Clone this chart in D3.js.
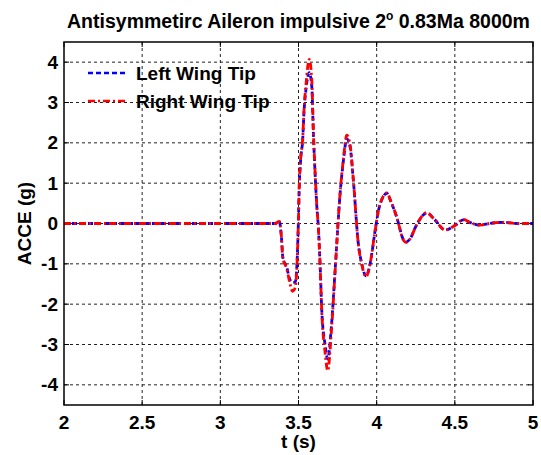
<!DOCTYPE html>
<html lang="en">
<head>
<meta charset="utf-8">
<title>Antisymmetirc Aileron impulsive</title>
<script src="https://d3js.org/d3.v7.min.js"></script>
<style>
  body { margin: 0; background: #fff; }
  svg { display: block; }
  text { font-family: Arial, "Liberation Sans", sans-serif; font-weight: bold; fill: #000; }
</style>
</head>
<body>
<script>
// time samples (s)
const tVals = [2.0, 3.30, 3.35, 3.377, 3.39, 3.40, 3.425, 3.446, 3.462, 3.478, 3.489, 3.499,
  3.505, 3.514, 3.527, 3.535, 3.548, 3.569, 3.585, 3.595, 3.606, 3.617, 3.627, 3.638, 3.649,
  3.67, 3.687, 3.71, 3.734, 3.766, 3.787, 3.809, 3.83, 3.851, 3.883, 3.905, 3.932, 3.958,
  3.99, 4.011, 4.04, 4.065, 4.09, 4.129, 4.171, 4.188, 4.21, 4.26, 4.32, 4.37, 4.438, 4.5,
  4.555, 4.6, 4.66, 4.72, 4.81, 4.9, 5.0];

// left wing tip acceleration (g)
const leftVals = [0, 0, 0, 0.05, -0.3, -0.84, -1.09, -1.4, -1.46, -1.46, -1.1, 0,
  0.93, 1.59, 2.09, 2.75, 3.33, 3.74, 3.4, 2.25, 1.26, 0.44, -0.1, -1.0, -2.16,
  -3.0, -3.36, -2.57, -1.17, 0.73, 1.55, 2.1, 1.9, 1.06, -0.51, -1.0, -1.3, -1.0,
  -0.18, 0.31, 0.65, 0.75, 0.55, 0.15, -0.4, -0.46, -0.4, 0.0, 0.26, 0.1, -0.16, -0.05,
  0.09, 0.02, -0.04, 0, 0.03, 0.0, 0.0];

// right wing tip acceleration (g)
const rightVals = [0, 0, 0, 0.05, -0.3, -0.86, -1.12, -1.5, -1.68, -1.6, -1.15, 0,
  0.95, 1.62, 2.12, 2.8, 3.45, 4.07, 3.55, 2.3, 1.28, 0.44, -0.1, -1.02, -2.2,
  -3.2, -3.65, -2.7, -1.2, 0.75, 1.6, 2.19, 1.95, 1.08, -0.52, -1.02, -1.32, -1.0,
  -0.18, 0.31, 0.66, 0.76, 0.56, 0.15, -0.41, -0.47, -0.4, 0.0, 0.27, 0.1, -0.16, -0.05,
  0.1, 0.02, -0.04, 0, 0.03, 0.0, 0.0];

const xTicks = [2, 2.5, 3, 3.5, 4, 4.5, 5];
const yTicks = [-4, -3, -2, -1, 0, 1, 2, 3, 4];
const seriesNames = ["Left Wing Tip", "Right Wing Tip"];

const W = 541, H = 455;
const m = {left: 64, right: 8, top: 42, bottom: 50};
const pw = W - m.left - m.right, ph = H - m.top - m.bottom;

const svg = d3.select("body").append("svg").attr("width", W).attr("height", H);

const x = d3.scaleLinear().domain([2, 5]).range([0, pw]);
const y = d3.scaleLinear().domain([-4.5, 4.5]).range([ph, 0]);

const g = svg.append("g").attr("transform", `translate(${m.left},${m.top})`);

// grid
g.selectAll(".gx").data(xTicks.slice(1, -1)).enter().append("line")
  .attr("x1", d => x(d)).attr("x2", d => x(d)).attr("y1", 0).attr("y2", ph)
  .attr("stroke", "#222").attr("stroke-width", 1).attr("stroke-dasharray", "3,3");
g.selectAll(".gy").data(yTicks).enter().append("line")
  .attr("y1", d => y(d)).attr("y2", d => y(d)).attr("x1", 0).attr("x2", pw)
  .attr("stroke", "#222").attr("stroke-width", 1).attr("stroke-dasharray", "3,3");

// inward ticks on all four sides
const tl = 5;
xTicks.forEach(d => {
  g.append("line").attr("x1", x(d)).attr("x2", x(d)).attr("y1", ph).attr("y2", ph - tl).attr("stroke", "#000");
  g.append("line").attr("x1", x(d)).attr("x2", x(d)).attr("y1", 0).attr("y2", tl).attr("stroke", "#000");
});
yTicks.forEach(d => {
  g.append("line").attr("y1", y(d)).attr("y2", y(d)).attr("x1", 0).attr("x2", tl).attr("stroke", "#000");
  g.append("line").attr("y1", y(d)).attr("y2", y(d)).attr("x1", pw).attr("x2", pw - tl).attr("stroke", "#000");
});

// tick labels
g.selectAll(".xl").data(xTicks).enter().append("text")
  .attr("x", d => x(d)).attr("y", ph + 24)
  .attr("text-anchor", "middle").attr("font-size", "19px")
  .text(d => d);
g.selectAll(".yl").data(yTicks).enter().append("text")
  .attr("x", -6).attr("y", d => y(d)).attr("dy", "0.35em")
  .attr("text-anchor", "end").attr("font-size", "19px")
  .text(d => d);

// lines
const line = vals => d3.line()
  .x((d, i) => x(tVals[i]))
  .y(d => y(d))
  .curve(d3.curveMonotoneX)(vals);

g.append("path").attr("d", line(leftVals))
  .attr("fill", "none").attr("stroke", "#0000ff").attr("stroke-width", 2.8)
  .attr("stroke-dasharray", "5,3");
g.append("path").attr("d", line(rightVals))
  .attr("fill", "none").attr("stroke", "#ff0000").attr("stroke-width", 2.8)
  .attr("stroke-dasharray", "7,3,2,3");

// box
g.append("rect").attr("width", pw).attr("height", ph)
  .attr("fill", "none").attr("stroke", "#000").attr("stroke-width", 1.5);

// legend
const leg = g.append("g");
const legStyles = [{c: "#0000ff", dash: "5,3"}, {c: "#ff0000", dash: "7,3,2,3"}];
seriesNames.forEach((name, i) => {
  const ly = 31 + i * 28;
  leg.append("line").attr("x1", 24).attr("x2", 64).attr("y1", ly).attr("y2", ly)
    .attr("stroke", legStyles[i].c).attr("stroke-width", 2.4).attr("stroke-dasharray", legStyles[i].dash);
  leg.append("text").attr("x", 72).attr("y", ly).attr("dy", "0.35em")
    .attr("font-size", "19px").text(name);
});

// title
const title = svg.append("text").attr("x", m.left + pw / 2).attr("y", 28)
  .attr("text-anchor", "middle").attr("font-size", "19.5px");
title.append("tspan").text("Antisymmetirc Aileron impulsive 2");
title.append("tspan").attr("font-size", "12px").attr("dy", "-8").text("o");
title.append("tspan").attr("dy", "8").text(" 0.83Ma 8000m");

// axis labels
svg.append("text").attr("x", m.left + pw / 2).attr("y", 448)
  .attr("text-anchor", "middle").attr("font-size", "19px").text("t (s)");
svg.append("text").attr("transform", `translate(31,${m.top + y(0)}) rotate(-90)`)
  .attr("text-anchor", "middle").attr("font-size", "19px").text("ACCE (g)");
</script>
</body>
</html>
